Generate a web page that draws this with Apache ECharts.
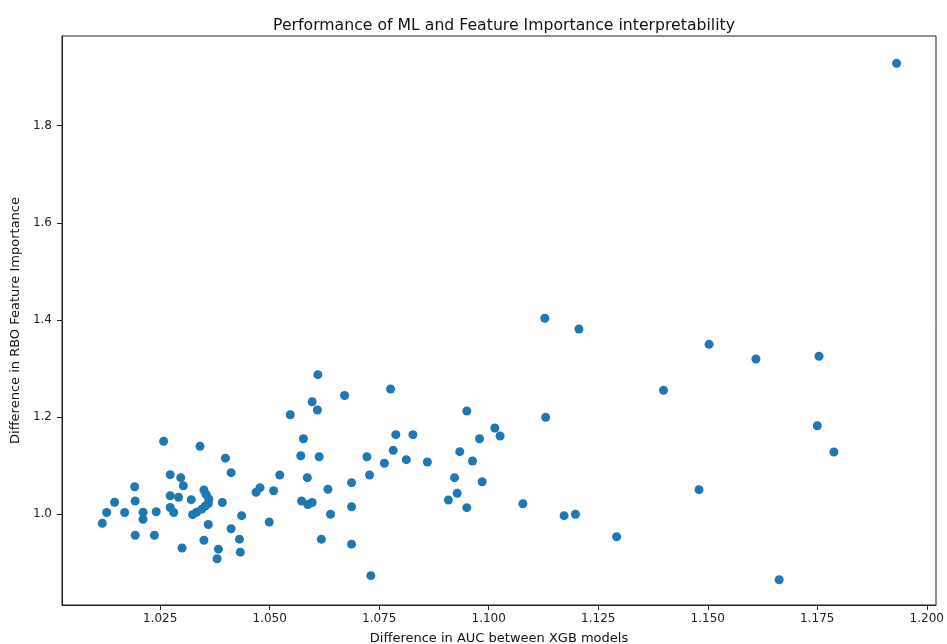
<!DOCTYPE html>
<html>
<head>
<meta charset="utf-8">
<script src="https://cdn.jsdelivr.net/npm/echarts@6/dist/echarts.min.js"></script>
<style>
  html, body { margin: 0; padding: 0; background: #fff; }
  #chart { width: 947px; height: 644px; }
</style>
</head>
<body>
<div id="chart"></div>
<script>
// difference in AUC between XGB models (x) and difference in RBO feature importance (y)
const aucDiff = [
  1.0118, 1.0128, 1.0146, 1.0169, 1.0192, 1.0193, 1.0193, 1.0211, 1.0211, 1.0237,
  1.0241, 1.0258, 1.0273, 1.0273, 1.0273, 1.0281, 1.0292, 1.0297, 1.0303, 1.0300,
  1.0321, 1.0324, 1.0333, 1.0341, 1.0345, 1.0350, 1.0355, 1.0361, 1.0360, 1.0353,
  1.0360, 1.0350, 1.0383, 1.0380, 1.0392, 1.0399, 1.0412, 1.0412, 1.0431, 1.0433,
  1.0436, 1.0469, 1.0478, 1.0499, 1.0509, 1.0523, 1.0547, 1.0571, 1.0577, 1.0586,
  1.0573, 1.0587, 1.0597, 1.0597, 1.0609, 1.0610, 1.0613, 1.0618, 1.0633, 1.0639,
  1.0671, 1.0687, 1.0687, 1.0687, 1.0722, 1.0728, 1.0731, 1.0762, 1.0776, 1.0782,
  1.0788, 1.0812, 1.0827, 1.0860, 1.0908, 1.0922, 1.0928, 1.0934, 1.0950, 1.0950,
  1.0963, 1.0979, 1.0985, 1.1014, 1.1026, 1.1078, 1.1128, 1.1130, 1.1172, 1.1198,
  1.1206, 1.1292, 1.1399, 1.1480, 1.1503, 1.1610, 1.1663, 1.1750, 1.1754, 1.1788,
  1.1931
];
const rboDiff = [
  0.9808, 1.0031, 1.0241, 1.0031, 1.0562, 1.0268, 0.9563, 1.0035, 0.9891, 0.9563,
  1.0047, 1.1498, 1.0810, 1.0377, 1.0134, 1.0031, 1.0346, 1.0748, 1.0583, 0.9300,
  1.0295, 0.9986, 1.0035, 1.1395, 1.0099, 1.0494, 1.0402, 1.0309, 1.0216, 1.0165,
  0.9784, 0.9460, 0.9275, 0.9079, 1.0237, 1.1150, 1.0851, 0.9697, 0.9481, 0.9213,
  0.9965, 1.0449, 1.0542, 0.9835, 1.0480, 1.0803, 1.2044, 1.1201, 1.1551, 1.0748,
  1.0268, 1.0196, 1.0237, 1.2312, 1.2143, 1.2870, 1.1180, 0.9481, 1.0509, 0.9994,
  1.2441, 1.0645, 1.0150, 0.9378, 1.1180, 1.0803, 0.8729, 1.1045, 1.2575, 1.1312,
  1.1634, 1.1119, 1.1634, 1.1071, 1.0288, 1.0748, 1.0426, 1.1284, 1.2122, 1.0130,
  1.1092, 1.1551, 1.0665, 1.1772, 1.1607, 1.0212, 1.4032, 1.1992, 0.9965, 0.9994,
  1.3811, 0.9532, 1.2548, 1.0501, 1.3496, 1.3193, 0.8646, 1.1819, 1.3249, 1.1277,
  1.9285
];
const xTicks = [1.025, 1.05, 1.075, 1.1, 1.125, 1.15, 1.175, 1.2];
const yTicks = [1.0, 1.2, 1.4, 1.6, 1.8];

const font = "DejaVu Sans";
let myChart = echarts.init(document.getElementById("chart"));
let points = aucDiff.map((x, i) => [x, rboDiff[i]]);

let option = {
  animation: false,
  backgroundColor: "#fff",
  title: {
    text: "Performance of ML and Feature Importance interpretability",
    left: 499,
    textAlign: "center",
    top: 13,
    textStyle: { fontFamily: font, fontSize: 15.7, fontWeight: "normal", color: "#111" },
  },
  grid: {
    left: 62,
    right: 11,
    top: 36,
    bottom: 39,
    outerBoundsMode: "none",
    show: true,
    borderColor: "#222",
    borderWidth: 1,
  },
  xAxis: {
    type: "value",
    min: 1.0026,
    max: 1.2021,
    name: "Difference in AUC between XGB models",
    nameLocation: "middle",
    nameGap: 27,
    nameTextStyle: { fontFamily: font, fontSize: 13, color: "#111" },
    axisLine: { show: true, lineStyle: { color: "#222" } },
    axisTick: { show: true, length: 5, customValues: xTicks, lineStyle: { color: "#222" } },
    axisLabel: {
      customValues: xTicks,
      margin: 8,
      fontFamily: font,
      fontSize: 12,
      color: "#222",
      formatter: (v) => v.toFixed(3),
    },
    splitLine: { show: false },
  },
  yAxis: {
    type: "value",
    min: 0.8125,
    max: 1.9848,
    name: "Difference in RBO Feature Importance",
    nameLocation: "middle",
    nameGap: 38,
    nameTextStyle: { fontFamily: font, fontSize: 13, color: "#111" },
    axisLine: { show: true, lineStyle: { color: "#222" } },
    axisTick: { show: true, length: 5, customValues: yTicks, lineStyle: { color: "#222" } },
    axisLabel: {
      customValues: yTicks,
      margin: 10,
      fontFamily: font,
      fontSize: 12,
      color: "#222",
      formatter: (v) => v.toFixed(1),
    },
    splitLine: { show: false },
  },
  series: [
    {
      type: "scatter",
      data: points,
      symbolSize: 9,
      itemStyle: { color: "#1f77b4", opacity: 1 },
    },
  ],
};
myChart.setOption(option);
</script>
</body>
</html>
